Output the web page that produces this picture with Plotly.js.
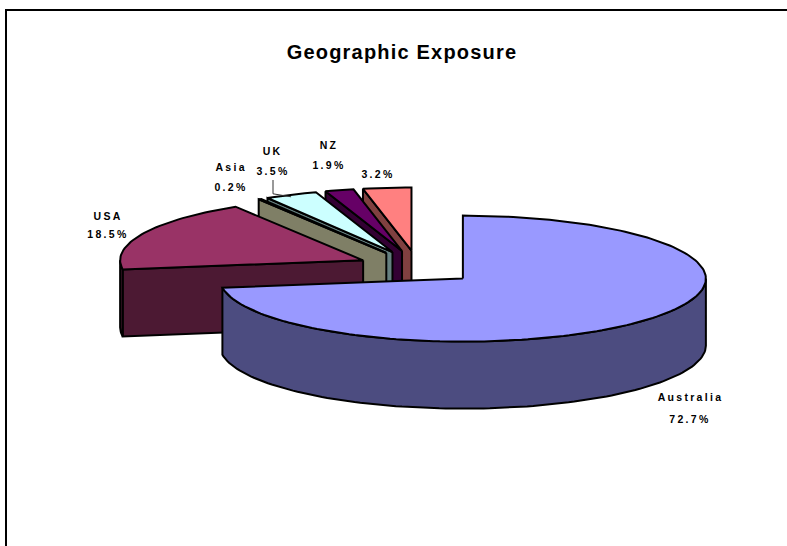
<!DOCTYPE html>
<html>
<head>
<meta charset="utf-8">
<script src="https://cdn.plot.ly/plotly-3.0.1.min.js"></script>
<style>
  html, body { margin: 0; padding: 0; background: #fff; overflow: hidden; }
  #chart { width: 787px; height: 546px; }
  #chart .annotation-text { letter-spacing: 2.3px; }
  #chart .gtitle { letter-spacing: 1.2px; }
</style>
</head>
<body>
<div id="chart"></div>
<script>
// Portfolio split by region, in percent, clockwise from twelve o'clock.
const categories = ['Australia', 'USA', 'Asia', 'UK', 'NZ', ''];
const shares = [72.7, 18.5, 0.2, 3.5, 1.9, 3.2];

const topColors = ['#9999FF', '#993366', '#FFFFCC', '#CCFFFF', '#660066', '#FF8080'];
const sideColors = ['#4C4C80', '#4C1933', '#7F7F66', '#668080', '#330033', '#804040'];

// Pie projection, in axis units.
const centre = { x: 417.5, y: 267.5 };
const radius = { x: 243, y: 63 };
const depth = 67;
const explode = { x: 60, y: 17 };

// Label anchors for each category: name line, then value line.
const labelX = [690, 108, 231, 273, 329, 378];
const nameY = [397, 216, 167, 151, 145, null];
const valueY = [419, 234, 187, 171, 165, 174];

const rad = d => d * Math.PI / 180;
const total = shares.reduce((a, b) => a + b, 0);

function arc(apex, from, to, dy) {
  const n = Math.max(2, Math.ceil(Math.abs(to - from) / 1.5));
  const pts = [];
  for (let i = 0; i <= n; i++) {
    const a = rad(from + (to - from) * i / n);
    pts.push([apex.x + radius.x * Math.sin(a), apex.y - radius.y * Math.cos(a) + dy]);
  }
  return pts;
}

function polygon(pts, fill, width) {
  const closed = pts.concat([pts[0]]);
  return {
    type: 'scatter', mode: 'lines', hoverinfo: 'skip', showlegend: false,
    x: closed.map(p => p[0]), y: closed.map(p => p[1]),
    fill: 'toself', fillcolor: fill,
    line: { color: '#000', width: width, shape: 'linear' }
  };
}

// Work out each slice's angular span and exploded apex.
let running = 0;
const slices = shares.map((v, i) => {
  const from = running / total * 360;
  running += v;
  const to = running / total * 360;
  const mid = rad((from + to) / 2);
  return {
    i, from, to,
    apex: { x: centre.x + explode.x * Math.sin(mid), y: centre.y - explode.y * Math.cos(mid) }
  };
});

const traces = [];
// Painter's order: the last slices sit furthest back.
slices.slice().reverse().forEach(s => {
  const side = sideColors[s.i];
  // Radial wall on the leading edge, seen only on the left half.
  if (Math.sin(rad(s.from)) < -1e-6) {
    const tip = arc(s.apex, s.from, s.from, 0)[0];
    traces.push(polygon([
      [s.apex.x, s.apex.y], tip, [tip[0], tip[1] + depth], [s.apex.x, s.apex.y + depth]
    ], side, 2));
  }
  // Outer rim where it faces the viewer.
  const rimFrom = Math.max(s.from, 90), rimTo = Math.min(s.to, 270);
  if (rimTo > rimFrom) {
    const upper = arc(s.apex, rimFrom, rimTo, 0);
    const lower = arc(s.apex, rimFrom, rimTo, depth).reverse();
    traces.push(polygon(upper.concat(lower), side, 2));
  }
  // Top face.
  traces.push(polygon([[s.apex.x, s.apex.y]].concat(arc(s.apex, s.from, s.to, 0)), topColors[s.i], 2));
});

// Leader line from the UK label to the middle of its arc.
const ukIndex = categories.indexOf('UK');
const uk = slices[ukIndex];
const ukEnd = arc(uk.apex, (uk.from + uk.to) / 2, (uk.from + uk.to) / 2, 0)[0];
traces.push({
  type: 'scatter', mode: 'lines', hoverinfo: 'skip', showlegend: false,
  x: [labelX[ukIndex], labelX[ukIndex], ukEnd[0]],
  y: [valueY[ukIndex] + 9, ukEnd[1] - 1, ukEnd[1] + 2],
  line: { color: '#333', width: 1 }
});

const annotations = [];
const labelFont = { family: 'Liberation Sans, Arial, sans-serif', size: 10.5, color: '#000', weight: 700 };
categories.forEach((name, i) => {
  const common = { xref: 'x', yref: 'y', x: labelX[i], showarrow: false, xanchor: 'center', yanchor: 'middle', font: labelFont };
  if (name) annotations.push(Object.assign({ y: nameY[i], text: '<b>' + name + '</b>' }, common));
  annotations.push(Object.assign({ y: valueY[i], text: '<b>' + shares[i].toFixed(1) + '%</b>' }, common));
});

const layout = {
  width: 787, height: 546,
  margin: { l: 0, r: 0, t: 0, b: 0 },
  paper_bgcolor: '#fff', plot_bgcolor: '#fff',
  title: {
    text: '<b>Geographic Exposure</b>',
    font: { family: 'Liberation Sans, Arial, sans-serif', size: 20, color: '#000' },
    x: 402 / 787, xanchor: 'center', y: 1 - 52 / 546, yanchor: 'middle'
  },
  xaxis: { range: [0, 787], visible: false, fixedrange: true },
  yaxis: { range: [546, 0], visible: false, fixedrange: true },
  showlegend: false,
  annotations,
  // Chart-area border: only the left and top edges fall inside the page.
  shapes: [{
    type: 'path', xref: 'paper', yref: 'paper',
    path: 'M ' + 6 / 787 + ' 0 L ' + 6 / 787 + ' ' + (1 - 10 / 546) + ' L 1 ' + (1 - 10 / 546),
    line: { color: '#000', width: 2 }
  }]
};

Plotly.newPlot('chart', traces, layout, { displayModeBar: false, staticPlot: true });
</script>
</body>
</html>
